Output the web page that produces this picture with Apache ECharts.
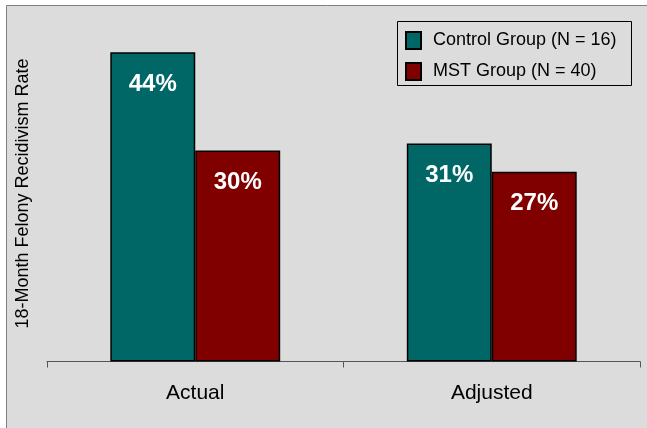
<!DOCTYPE html>
<html><head><meta charset="utf-8">
<script src="https://cdn.jsdelivr.net/npm/echarts@6/dist/echarts.min.js"></script>
<style>html,body{margin:0;padding:0;background:#fff}#c{width:647px;height:428px}</style>
</head><body><div id="c"></div>
<script>
const categories = ['Actual', 'Adjusted'];
const controlValues = [44, 31];
const mstValues = [30, 27];
const seriesNames = ['Control Group (N = 16)', 'MST Group (N = 40)'];
const yTitle = '18-Month Felony Recidivism Rate';

const FONT = 'Liberation Sans, Arial, sans-serif';
const chart = echarts.init(document.getElementById('c'), null, {renderer: 'canvas'});
const label = {
  show: true, position: 'insideTop', distance: 20,
  color: '#fff', fontWeight: 'bold', fontSize: 24, fontFamily: FONT,
  formatter: p => p.value + '%'
};
chart.setOption({
  backgroundColor: '#fff',
  animation: false,
  graphic: [
    {type: 'rect', z: -10, silent: true,
     shape: {x: 6.5, y: 5.5, width: 700, height: 500},
     style: {fill: '#dcdcdc', stroke: '#7f7f7f', lineWidth: 1}},
    {type: 'rect', z: 0, silent: true,
     shape: {x: 397.5, y: 21.5, width: 234, height: 64},
     style: {fill: '#dcdcdc', stroke: '#000', lineWidth: 1}},
    {type: 'text', silent: true, x: 23, y: 193.5, rotation: Math.PI / 2,
     style: {text: yTitle, fontSize: 18, fontFamily: FONT, fill: '#000',
             align: 'center', verticalAlign: 'middle'}}
  ],
  textStyle: {fontFamily: FONT},
  grid: {left: 47, right: 7, top: 10, bottom: 66.5, containLabel: false},
  legend: {
    orient: 'vertical', left: 405, top: 31, z: 5,
    padding: 0, itemGap: 12, itemWidth: 15, itemHeight: 17,
    textStyle: {fontSize: 18, color: '#000', lineHeight: 17, padding: [0, 0, 0, 7]},
    data: seriesNames.map(n => ({name: n, icon: 'rect'}))
  },
  xAxis: {
    type: 'category', data: categories,
    axisLine: {lineStyle: {color: '#555', width: 1}},
    axisTick: {show: true, length: 6, lineStyle: {color: '#555'}},
    axisLabel: {fontSize: 21, color: '#000', margin: 21}
  },
  yAxis: {
    type: 'value', min: 0, max: 50,
    axisLine: {show: false}, axisTick: {show: false}, axisLabel: {show: false},
    splitLine: {show: false}
  },
  series: [
    {name: seriesNames[0], type: 'bar', data: controlValues, barGap: '0%', barCategoryGap: '42.7%',
     itemStyle: {color: '#006666', borderColor: '#000', borderWidth: 1.5}, label},
    {name: seriesNames[1], type: 'bar', data: mstValues,
     itemStyle: {color: '#800000', borderColor: '#000', borderWidth: 1.5}, label}
  ]
});
</script></body></html>
